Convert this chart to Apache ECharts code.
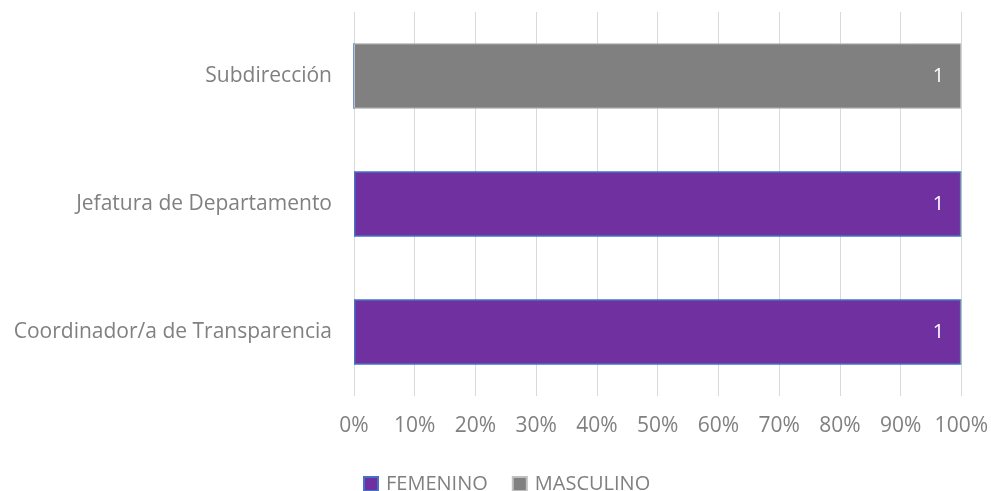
<!DOCTYPE html>
<html>
<head>
<meta charset="utf-8">
<script src="https://cdn.jsdelivr.net/npm/echarts@6/dist/echarts.min.js"></script>
<style>
  html, body { margin: 0; padding: 0; background: #fff; }
  #main { width: 991px; height: 491px; }
</style>
</head>
<body>
<div id="main"></div>
<script>
// datos por puesto (de abajo hacia arriba)
const categories = ['Coordinador/a de Transparencia', 'Jefatura de Departamento', 'Subdirección'];
const femenino = [1, 1, 0];
const masculino = [0, 0, 1];
const ticks = ['0%', '10%', '20%', '30%', '40%', '50%', '60%', '70%', '80%', '90%', '100%'];

const totals = categories.map((c, i) => femenino[i] + masculino[i]);
const pct = (arr) => arr.map((v, i) => ({ value: totals[i] ? v / totals[i] * 100 : 0, raw: v }));

const font = 'Open Sans';
const chart = echarts.init(document.getElementById('main'));

const labelCfg = {
    show: true,
    position: 'insideRight',
    color: '#fff',
    fontSize: 20,
    fontFamily: font,
    distance: 17,
    formatter: (p) => p.data.raw ? String(p.data.raw) : ''
};

chart.setOption({
    animation: false,
    grid: { left: 354, right: 29, top: 12, bottom: 95 },
    legend: {
        top: 469,
        left: 358,
        itemWidth: 14,
        itemHeight: 14,
        itemGap: 24,
        icon: 'rect',
        textStyle: { color: '#808080', fontSize: 20, fontFamily: font, padding: [0, 0, 0, 3] },
        data: ['FEMENINO', 'MASCULINO']
    },
    xAxis: {
        type: 'value',
        min: 0,
        max: 100,
        interval: 10,
        axisLine: { show: false },
        axisTick: { show: false },
        splitLine: { lineStyle: { color: '#d9d9d9', width: 1 } },
        axisLabel: {
            color: '#808080',
            fontSize: 21,
            fontFamily: font,
            margin: 20,
            formatter: (v) => ticks[Math.round(v / 10)]
        }
    },
    yAxis: {
        type: 'category',
        data: categories,
        axisLine: { show: false },
        axisTick: { show: false },
        axisLabel: { color: '#808080', fontSize: 21, fontFamily: font, margin: 22 }
    },
    series: [
        {
            name: 'FEMENINO',
            type: 'bar',
            stack: 'total',
            barWidth: '51%',
            data: pct(femenino),
            itemStyle: { color: '#7030a0', borderColor: '#4472c4', borderWidth: 1.5 },
            label: labelCfg
        },
        {
            name: 'MASCULINO',
            type: 'bar',
            stack: 'total',
            barWidth: '51%',
            data: pct(masculino),
            itemStyle: { color: '#808080', borderColor: '#bfbfbf', borderWidth: 1 },
            label: labelCfg
        }
    ]
});
</script>
</body>
</html>
